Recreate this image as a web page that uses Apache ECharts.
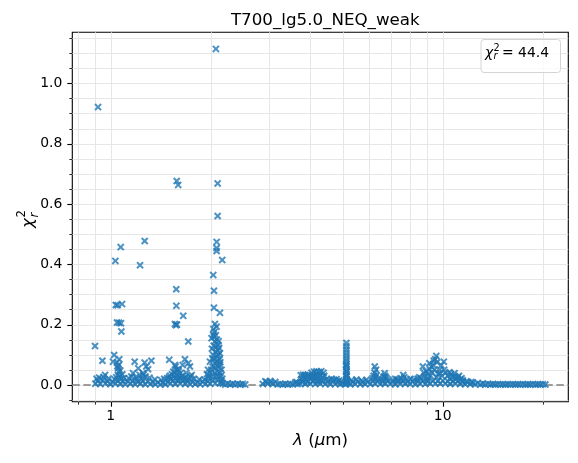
<!DOCTYPE html>
<html><head><meta charset="utf-8">
<script src="https://cdn.jsdelivr.net/npm/echarts/dist/echarts.min.js"></script>
<style>html,body{margin:0;padding:0;background:#fff}#c{width:578px;height:463px}</style>
</head><body><div id="c"></div>
<script>
const titleText = 'T700_lg5.0_NEQ_weak';
const chi2Value = '44.4';
const xRange = [0.767, 23.9];
const yRange = [-0.0557, 1.169];
const xMajorTicks = [1, 10];
const xMinorTicks = [0.8, 0.9, 2, 3, 4, 5, 6, 7, 8, 9, 20];
const yMajorTicks = [0, 0.2, 0.4, 0.6, 0.8, 1.0];
const yMinorTicks = [-0.05, 0.05, 0.1, 0.15, 0.25, 0.3, 0.35, 0.45, 0.5, 0.55, 0.65, 0.7, 0.75, 0.85, 0.9, 0.95, 1.05, 1.1, 1.15];

// [wavelength (um), reduced chi2 contribution]
const baseA = [[0.900,0.004],[0.916,0.013],[0.932,0.003],[0.948,0.016],[0.965,0.005],[0.981,0.012],[0.999,0.002],[1.016,0.010],[1.034,0.004],[1.052,0.014],[1.070,0.003],[1.089,0.011],[1.108,0.002],[1.127,0.012],[1.147,0.004],[1.167,0.013],[1.187,0.002],[1.208,0.010],[1.229,0.004],[1.251,0.013],[1.273,0.002],[1.295,0.011],[1.317,0.003],[1.340,0.009],[1.364,0.002],[1.388,0.008],[1.412,0.001],[1.437,0.007],[1.462,0.002],[1.487,0.010],[1.513,0.004],[1.540,0.014],[1.566,0.003],[1.594,0.012],[1.622,0.004],[1.650,0.013],[1.679,0.003],[1.708,0.011],[1.738,0.002],[1.768,0.010],[1.799,0.003],[1.831,0.009],[1.863,0.002],[1.895,0.011],[1.928,0.003],[1.962,0.012],[1.996,0.004],[2.031,0.015],[2.066,0.005],[2.103,0.018],[2.139,0.006],[2.177,0.004],[2.215,0.001],[2.253,0.005],[2.293,0.001],[2.333,0.004],[2.374,0.001],[2.415,0.004],[2.457,0.001],[2.500,0.003],[2.544,0.001]];
const clusterA = [[0.945,0.080],[0.963,0.033],[0.924,0.024],[0.908,0.020],[0.986,0.021],[0.952,0.026],
[1.025,0.099],[1.017,0.077],[1.045,0.074],[1.059,0.066],[1.054,0.055],[1.058,0.044],[1.052,0.033],[1.040,0.025],[1.065,0.028],[1.075,0.020],[1.030,0.018],[1.085,0.035],[1.070,0.048],[1.062,0.085],[1.048,0.062],[1.095,0.022],
[1.182,0.077],[1.169,0.039],[1.155,0.028],[1.224,0.033],[1.252,0.039],[1.267,0.074],[1.281,0.061],[1.297,0.052],[1.327,0.080],[1.212,0.055],[1.255,0.033],[1.135,0.022],[1.190,0.025],[1.240,0.020],[1.310,0.024],[1.360,0.018],[1.420,0.016],[1.450,0.020],[1.500,0.025],[1.275,0.028],[1.200,0.018],
[1.502,0.083],[1.563,0.066],[1.545,0.044],[1.582,0.050],[1.599,0.050],[1.570,0.061],[1.649,0.066],[1.675,0.085],[1.714,0.072],[1.734,0.061],[1.755,0.033],[1.520,0.020],[1.530,0.035],[1.550,0.028],[1.560,0.040],[1.575,0.022],[1.585,0.032],[1.595,0.018],[1.610,0.027],[1.620,0.038],[1.630,0.021],[1.640,0.030],[1.605,0.045],[1.510,0.030],[1.480,0.022],[1.660,0.020],[1.680,0.025],[1.700,0.018],[1.720,0.022],[1.780,0.020],[1.850,0.018],[1.920,0.017],[1.970,0.022],[1.690,0.040],[1.740,0.028]];
const peakA = [[2.062,0.202],[2.086,0.193],[2.038,0.166],[2.048,0.160],[2.015,0.155],[2.062,0.144],[2.110,0.133],[2.124,0.122],[2.135,0.105],[2.095,0.094],[2.038,0.099],[1.992,0.077],[2.062,0.072],[2.135,0.066],[1.966,0.050],[2.159,0.050],[1.950,0.035],[2.000,0.040],[2.030,0.060],[2.050,0.085],[2.070,0.110],[2.080,0.125],[2.100,0.080],[2.120,0.060],[2.140,0.040],[2.150,0.030],[2.170,0.020],[2.020,0.120],[2.040,0.185],[2.055,0.175],[2.090,0.150],[2.110,0.100],[2.130,0.085],[2.080,0.030],[2.060,0.040],[2.030,0.025],[1.980,0.030],[2.100,0.045],[2.120,0.028],[2.090,0.065],[2.160,0.012],[2.070,0.055],[2.045,0.130],[2.075,0.165],[2.115,0.145],[2.010,0.050],[2.025,0.088],[2.105,0.115],[2.140,0.075]];
const outliersA = [[0.917,0.921],[2.076,1.114],[1.582,0.676],[1.598,0.663],[2.101,0.668],[2.101,0.560],[1.267,0.477],[1.073,0.457],[1.034,0.411],[1.227,0.397],[2.087,0.474],[2.086,0.454],[2.086,0.444],[2.169,0.414],[2.038,0.364],[1.577,0.317],[2.048,0.312],[1.037,0.265],[1.050,0.264],[1.083,0.268],[1.578,0.262],[1.655,0.229],[2.048,0.256],[2.135,0.239],[1.046,0.207],[1.061,0.206],[1.075,0.204],[1.078,0.177],[1.563,0.202],[1.574,0.198],[1.585,0.200],[1.714,0.144],[0.898,0.129]];
const baseB = [[2.874,0.003],[2.924,0.012],[2.975,0.004],[3.027,0.013],[3.080,0.003],[3.134,0.010],[3.189,0.002],
[3.245,0.003],[3.301,0.001],[3.359,0.004],[3.418,0.001],[3.477,0.003],
[3.538,0.002],[3.600,0.008],[3.663,0.003],
[3.727,0.004],[3.792,0.012],[3.858,0.003],[3.926,0.011],[3.994,0.004],
[4.064,0.012],[4.135,0.003],[4.207,0.011],[4.281,0.004],[4.356,0.012],
[4.432,0.003],[4.509,0.010],[4.588,0.002],[4.668,0.011],[4.750,0.003],[4.833,0.009],[4.917,0.002],
[5.003,0.006],[5.091,0.002],[5.180,0.006],
[5.270,0.002],[5.362,0.010],[5.456,0.003],[5.552,0.011],[5.649,0.002],[5.748,0.009],[5.848,0.003],[5.950,0.010],
[6.054,0.003],[6.160,0.012],[6.268,0.004],[6.378,0.011],[6.489,0.003],
[6.603,0.010],[6.718,0.004],[6.836,0.012],[6.955,0.003],
[7.077,0.010],[7.201,0.002],[7.327,0.011],[7.455,0.003],[7.585,0.012],[7.718,0.004],[7.853,0.010],[7.990,0.003],[8.130,0.011],[8.272,0.002],
[8.417,0.011],[8.564,0.004],[8.714,0.013],[8.866,0.003],[9.021,0.012],[9.179,0.005],[9.340,0.014],[9.503,0.004],[9.669,0.013],[9.838,0.005],[10.01,0.014],[10.19,0.004],[10.36,0.012],[10.54,0.003],[10.73,0.011],
[10.92,0.004],[11.11,0.012],[11.30,0.003],[11.50,0.010],
[11.70,0.002],[11.91,0.009],[12.11,0.002],[12.33,0.008],[12.54,0.002],[12.76,0.006],[12.99,0.001],[13.21,0.005],[13.45,0.001],
[13.68,0.003],[13.92,0.001],[14.17,0.003],[14.41,0.001],[14.67,0.002],[14.92,0.001],[15.18,0.002],[15.45,0.001],[15.72,0.002],[15.99,0.001],[16.27,0.002],[16.56,0.001],[16.85,0.002],[17.14,0.001],[17.44,0.002],[17.75,0.001],[18.06,0.002],[18.37,0.001],[18.69,0.002],[19.02,0.001],[19.35,0.002],[19.69,0.001],[20.04,0.002],[20.39,0.001]];
const blockB = [[3.76,0.020],[3.83,0.028],[3.89,0.018],[3.96,0.030],[3.74,0.032],[3.80,0.034],[3.86,0.033],[3.93,0.034],[3.99,0.022],[3.77,0.010],[3.91,0.010],
[4.03,0.040],[4.10,0.044],[4.17,0.045],[4.24,0.043],[4.31,0.045],[4.38,0.040],[4.07,0.025],[4.14,0.030],[4.21,0.022],[4.28,0.032],[4.35,0.025],[4.10,0.015],[4.24,0.012],[4.04,0.028],[4.17,0.035],[4.31,0.015],[4.40,0.030],[4.20,0.032],
[4.47,0.018],[4.55,0.016],[4.63,0.020],[4.71,0.017],[4.79,0.019],[4.88,0.015],[4.96,0.012],[2.95,0.010],[3.05,0.008],[3.63,0.010]];
const spikeB = [[5.13,0.139],[5.13,0.128],[5.13,0.117],[5.13,0.107],[5.13,0.097],[5.13,0.087],[5.13,0.078],[5.13,0.069],[5.13,0.060],[5.13,0.051],[5.13,0.043],[5.13,0.035],[5.13,0.027],[5.13,0.019],[5.13,0.011],[5.125,0.004],[5.14,0.015],[5.12,0.030],[5.14,0.045],[5.12,0.065]];
const bumpsB = [[5.32,0.016],[5.50,0.018],[5.70,0.015],[5.90,0.017],
[6.246,0.061],[6.30,0.050],[6.24,0.040],[6.20,0.030],[6.33,0.032],[6.15,0.022],[6.40,0.020],[6.28,0.024],
[6.69,0.039],[6.64,0.027],[6.75,0.025],[6.60,0.018],[6.80,0.020],[6.70,0.030],
[7.10,0.016],[7.30,0.018],[7.50,0.022],[7.61,0.033],[7.66,0.025],[7.80,0.018],[8.00,0.020],[8.20,0.018],[7.20,0.020],[7.40,0.015],
[8.40,0.020],[8.50,0.025],[8.60,0.022],[8.72,0.061],[8.78,0.040],[8.90,0.045],[9.12,0.072],[9.15,0.052],[9.05,0.035],[9.25,0.060],[9.36,0.066],[9.40,0.080],[9.57,0.096],[9.50,0.085],[9.62,0.075],[10.08,0.077],[9.90,0.065],[9.78,0.050],[9.80,0.040],[9.45,0.050],[9.30,0.040],[9.20,0.030],[9.70,0.035],[10.10,0.050],[10.20,0.040],[10.35,0.030],[10.49,0.042],[10.60,0.035],[10.86,0.039],[10.70,0.025],[10.90,0.028],[11.00,0.020],[9.60,0.025],[9.00,0.022],[8.95,0.015],[10.50,0.020],[8.83,0.030],[9.95,0.030],
[11.1,0.025],[11.3,0.018],[11.5,0.015],[11.2,0.030],[11.4,0.022],[11.8,0.012],[12.2,0.010]];

const allPoints = [].concat(baseA, clusterA, peakA, outliersA, baseB, blockB, spikeB, bumpsB);

const F = 'DejaVu Sans';
const xMarker = 'path://M0,1.9L1.9,0L5,3.1L8.1,0L10,1.9L6.9,5L10,8.1L8.1,10L5,6.9L1.9,10L0,8.1L3.1,5Z';
const gridColor = '#e6e6e6';

const xTickData = xMajorTicks.map(v => [v, 0, 0]).concat(xMinorTicks.map(v => [v, 0, 1]));
const yTickData = yMajorTicks.map(v => [1, v, 0]).concat(yMinorTicks.map(v => [1, v, 1]));

function renderXTick(params, api) {
  const cs = params.coordSys;
  const p = api.coord([api.value(0), api.value(1)]);
  const major = api.value(2) === 0;
  const x = Math.round(p[0]) + 0.5;
  const b = cs.y + cs.height;
  return {type: 'group', children: [
    {type: 'line', shape: {x1: x, y1: cs.y, x2: x, y2: b}, style: {stroke: gridColor, lineWidth: 1}},
    {type: 'line', shape: {x1: x, y1: b, x2: x, y2: b + (major ? 5 : 3)}, style: {stroke: '#000', lineWidth: major ? 1.1 : 0.8}}
  ]};
}
function renderYTick(params, api) {
  const cs = params.coordSys;
  const p = api.coord([api.value(0), api.value(1)]);
  const major = api.value(2) === 0;
  const y = Math.round(p[1]) + 0.5;
  return {type: 'group', children: [
    {type: 'line', shape: {x1: cs.x, y1: y, x2: cs.x + cs.width, y2: y}, style: {stroke: gridColor, lineWidth: 1}},
    {type: 'line', shape: {x1: cs.x - (major ? 5 : 3), y1: y, x2: cs.x, y2: y}, style: {stroke: '#000', lineWidth: major ? 1.1 : 0.8}}
  ]};
}

const chart = echarts.init(document.getElementById('c'));
chart.setOption({
  animation: false,
  title: {text: titleText, left: 320.3, top: 7, textAlign: 'center',
    textStyle: {fontFamily: F, fontSize: 16.7, fontWeight: 'normal', color: '#000'}},
  grid: {left: 72.3, right: 9.7, top: 32.3, bottom: 61.3, show: true, borderColor: '#000', borderWidth: 1.1, backgroundColor: 'transparent'},
  xAxis: {type: 'log', logBase: 10, min: xRange[0], max: xRange[1],
    axisLine: {show: false, onZero: false}, axisTick: {show: false}, splitLine: {show: false}, minorTick: {show: false},
    axisLabel: {margin: 8, fontFamily: F, fontSize: 13.9, color: '#000',
      formatter: v => xMajorTicks.some(t => Math.abs(t - v) / t < 1e-6) ? String(Math.round(v)) : ''}},
  yAxis: {type: 'value', min: yRange[0], max: yRange[1], splitNumber: 5,
    axisLine: {show: false, onZero: false}, axisTick: {show: false}, splitLine: {show: false},
    axisLabel: {margin: 10, fontFamily: F, fontSize: 13.9, color: '#000', showMinLabel: false, showMaxLabel: false,
      formatter: v => yMajorTicks.some(t => Math.abs(t - v) < 1e-6) ? v.toFixed(1) : ''}},
  series: [
    {type: 'custom', coordinateSystem: 'cartesian2d', renderItem: renderXTick, data: xTickData, clip: false, silent: true, z: 1},
    {type: 'custom', coordinateSystem: 'cartesian2d', renderItem: renderYTick, data: yTickData, clip: false, silent: true, z: 1},
    {type: 'line', data: [], z: 2, silent: true,
      markLine: {silent: true, symbol: 'none', z: 2, label: {show: false}, animation: false,
        lineStyle: {color: '#808080', width: 1.5, type: [7.5, 3.5]}, data: [{yAxis: 0}]}},
    {type: 'scatter', data: allPoints, symbol: xMarker, symbolSize: 7.5, itemStyle: {color: '#1f77b4'}, z: 3, silent: true}
  ],
  graphic: [
    {type: 'rect', shape: {x: 481, y: 39.5, width: 79.5, height: 33, r: 3}, style: {fill: 'rgba(255,255,255,0.8)', stroke: '#d4d4d4', lineWidth: 1}, z: 10},
    {type: 'text', x: 485, y: 53, z: 11, style: {text: 'χ', fontFamily: F, fontStyle: 'italic', fontSize: 13.9, fill: '#000', align: 'left', verticalAlign: 'middle'}},
    {type: 'text', x: 493.5, y: 48.5, z: 11, style: {text: '2', fontFamily: F, fontSize: 9.7, fill: '#000', align: 'left', verticalAlign: 'middle'}},
    {type: 'text', x: 493.5, y: 56.5, z: 11, style: {text: 'r', fontFamily: F, fontStyle: 'italic', fontSize: 9.7, fill: '#000', align: 'left', verticalAlign: 'middle'}},
    {type: 'text', x: 502, y: 53, z: 11, style: {text: '= ' + chi2Value, fontFamily: F, fontSize: 13.9, fill: '#000', align: 'left', verticalAlign: 'middle'}},
    {type: 'text', x: 320.5, y: 441, z: 11, style: {text: '{i|λ}{n| (}{i|μ}{n|m)}', align: 'center', verticalAlign: 'middle', fontFamily: F, fontSize: 16.7, fill: '#000',
      rich: {i: {fontFamily: F, fontStyle: 'italic', fontSize: 16.7}, n: {fontFamily: F, fontSize: 16.7}}}},
    {type: 'group', x: 35, y: 228, rotation: Math.PI / 2, z: 11, children: [
      {type: 'text', x: 0, y: -6, style: {text: 'χ', fontFamily: F, fontStyle: 'italic', fontSize: 16.7, fill: '#000', align: 'left', verticalAlign: 'middle'}},
      {type: 'text', x: 10.5, y: -13, style: {text: '2', fontFamily: F, fontSize: 11.7, fill: '#000', align: 'left', verticalAlign: 'middle'}},
      {type: 'text', x: 10.5, y: 0, style: {text: 'r', fontFamily: F, fontStyle: 'italic', fontSize: 11.7, fill: '#000', align: 'left', verticalAlign: 'middle'}}
    ]}
  ]
});
</script></body></html>
